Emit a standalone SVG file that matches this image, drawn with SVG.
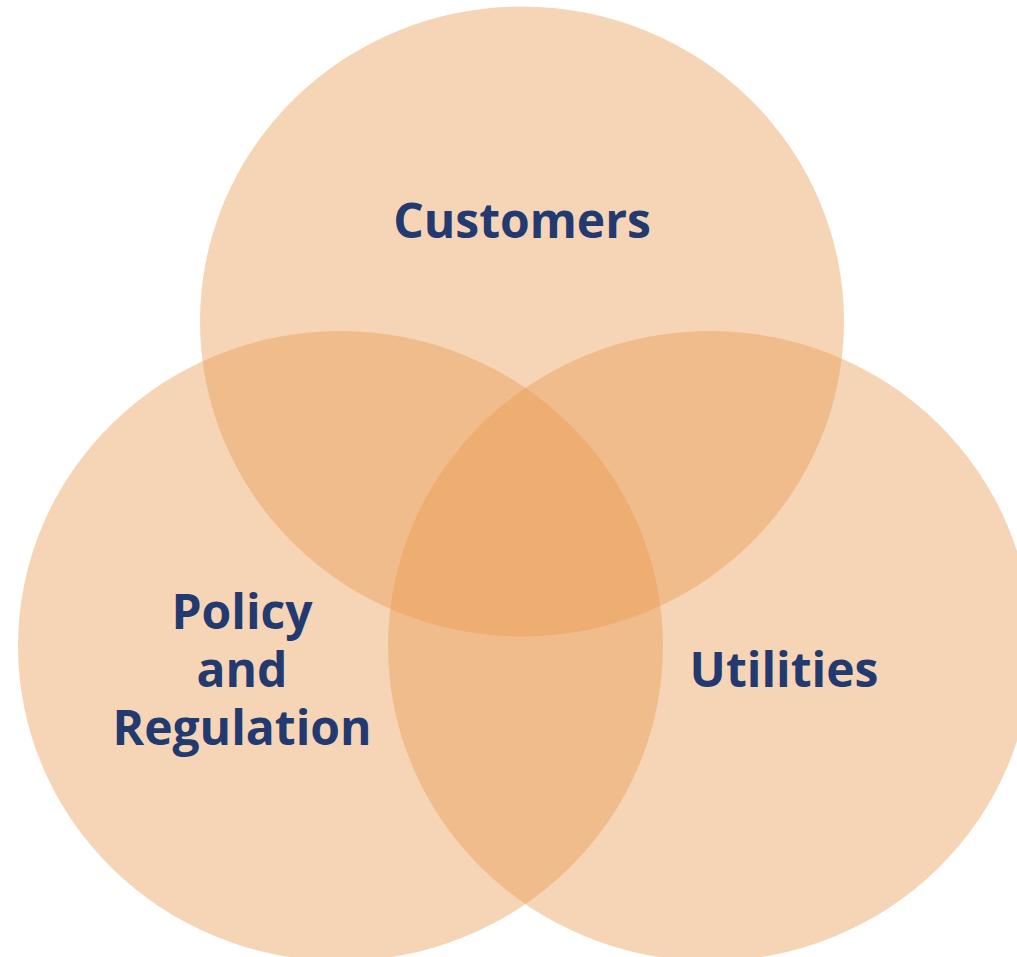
<svg xmlns="http://www.w3.org/2000/svg" width="1017" height="957" viewBox="0 0 1017 957">
<style>
.c{fill:#EA9A52;fill-opacity:0.42}
.t{font-family:"Open Sans","Liberation Sans",sans-serif;font-weight:bold;font-size:48px;fill:#223A70;text-anchor:middle}
</style>
<rect width="1017" height="957" fill="#FFFFFF"/>
<g id="customers"><ellipse class="c" cx="522" cy="321.5" rx="322" ry="315"/><text class="t" x="522" y="238">Customers</text></g>
<g id="policy"><ellipse class="c" cx="340.5" cy="646" rx="322.5" ry="315"/><text class="t" x="242" y="629">Policy</text><text class="t" x="242" y="687">and</text><text class="t" x="242" y="745">Regulation</text></g>
<g id="utilities"><ellipse class="c" cx="710" cy="646" rx="322" ry="315"/><text class="t" x="784" y="687">Utilities</text></g>
<g id="connectors"></g>
</svg>
